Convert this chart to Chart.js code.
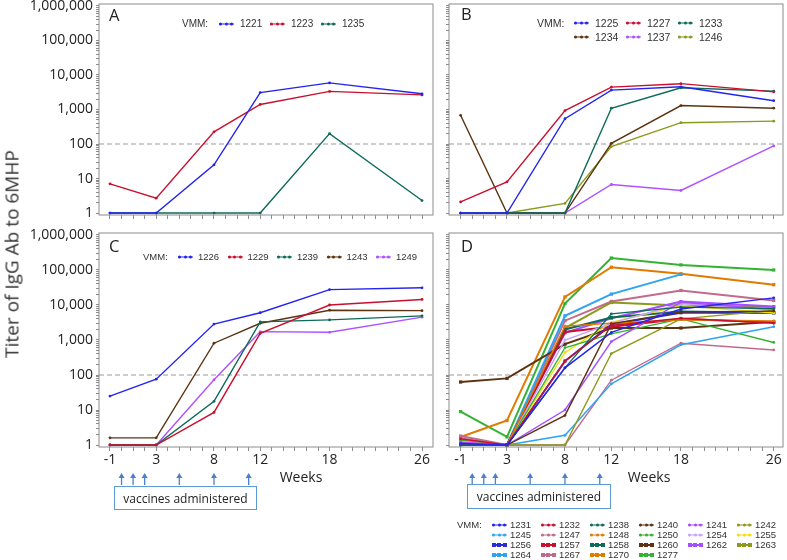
<!DOCTYPE html>
<html>
<head>
<meta charset="utf-8">
<script src="https://cdn.jsdelivr.net/npm/chart.js@4.4.1/dist/chart.umd.min.js"></script>
<style>
  html, body { margin: 0; padding: 0; background: #fff; }
  body { width: 787px; height: 560px; position: relative; overflow: hidden; font-family: "Open Sans", sans-serif; color: #222; }
  canvas { position: absolute; }
  .txt { position: absolute; white-space: nowrap; line-height: 1; transform: translateY(-50%); }
  .leg { position: absolute; white-space: nowrap; line-height: 1; transform: translateY(-50%); font-family: "Liberation Sans", Arial, sans-serif; font-size: 10px; color: #333; }
  .mk { position: absolute; width: 15px; transform: translateY(-50%); }
  .mk b { position: absolute; left: 0; right: 0; }
  .mk i { position: absolute; }
  .letter { position: absolute; font-size: 16.5px; line-height: 1; }
  .box { position: absolute; border: 1.5px solid #5b9bd5; box-sizing: border-box; font-size: 12px; display: flex; align-items: center; justify-content: center; }
</style>
</head>
<body>
<canvas id="chartA" width="440" height="225" style="left:0;top:0"></canvas>
<canvas id="chartB" width="347" height="225" style="left:440px;top:0"></canvas>
<canvas id="chartC" width="440" height="295" style="left:0;top:225px"></canvas>
<canvas id="chartD" width="347" height="295" style="left:440px;top:225px"></canvas>
<div id="overlay"></div>
<script>
// Data
const weeks = [-1, 3, 8, 12, 18, 26];
const weekLabels = [-1, 3, 8, 12, 18, 26];
const vaccineWeeks = [0, 1, 2, 5, 8, 11];
const titerLabels = [1, 10, 100, 1000, 10000, 100000, 1000000];
const cutoff = 100;

const vmmA = ["1221", "1223", "1235"];
const colorsA = ["#2424f0", "#c8102e", "#0b6b58"];
const titerA = [
    [1, 1, 25, 3100, 5900, 2850],
    [7, 2.7, 225, 1400, 3350, 2650],
    [1, 1, 1, 1, 200, 2.3]
];

const vmmB = ["1225", "1227", "1233", "1234", "1237", "1246"];
const colorsB = ["#2424f0", "#c8102e", "#0b6b58", "#5c3311", "#b050ff", "#8a9a1a"];
const titerB = [
    [1, 1, 540, 3650, 4550, 1800],
    [2.1, 8, 930, 4450, 5600, 3250],
    [1, 1, 1, 1090, 4250, 3400],
    [680, 1, 1, 105, 1300, 1090],
    [1, 1, 1, 6.7, 4.5, 88],
    [1, 1, 1.9, 84, 415, 460]
];

const vmmC = ["1226", "1229", "1239", "1243", "1249"];
const colorsC = ["#2424f0", "#c8102e", "#0b6b58", "#5c3311", "#b050ff"];
const titerC = [
    [25, 76, 2850, 6000, 27500, 31000],
    [1, 1, 8.5, 1550, 10000, 14400],
    [1, 1, 17.7, 3300, 3750, 4900],
    [1.6, 1.6, 810, 3000, 7100, 6900],
    [1, 1, 73, 1730, 1660, 4500]
];

const vmmD = ["1231", "1232", "1238", "1240", "1241", "1242",
              "1245", "1247", "1248", "1250", "1254", "1255",
              "1256", "1257", "1258", "1260", "1262", "1263",
              "1264", "1267", "1270", "1277"];
const colorsD = ["#2424f0", "#c8102e", "#0b6b58", "#5c3311", "#a64dff", "#8c9a1c",
                 "#2ea3f2", "#c36a8c", "#e07b00", "#33b233", "#c8a0ff", "#f2e000",
                 "#2b2bd8", "#c8102e", "#0b6b58", "#5c3311", "#a64dff", "#8c9a1c",
                 "#2ea3f2", "#c36a8c", "#e07b00", "#33b233"];
const titerD = [
    [1.1, 1, 160, 1650, 7700, 16000],
    [1.5, 1, 250, 2600, 4200, 3000],
    [1, 1, 160, 5600, 8700, 7900],
    [1, 1, 7, 2900, 6300, 6700],
    [1.2, 1, 10, 900, 12000, 7500],
    [1, 1, 1, 410, 4000, 7000],
    [1, 1, 1.9, 56, 730, 2400],
    [1.6, 1, 1, 71, 810, 520],
    [1.5, 1, 2500, 3000, 3800, 3500],
    [1.4, 1, 600, 1500, 4000, 850],
    [1.2, 1, 1000, 3000, 11000, 7000],
    [1.3, 1, 440, 3200, 9700, 5900],
    [1.2, 1, 250, 2800, 6000, 6000],
    [1.3, 1, 1700, 2400, 4000, 3200],
    [1.2, 1, 2000, 4400, 6500, 6000],
    [63, 80, 760, 2200, 2200, 3300],
    [1.3, 1, 1600, 4200, 12500, 9000],
    [1, 1, 2200, 11800, 9700, 8700],
    [1.1, 1, 4900, 20500, 75000, null],
    [1.8, 1, 3570, 12600, 26000, 13500],
    [1.7, 5, 17000, 120000, 78000, 38000],
    [9, 1.7, 11000, 220000, 140000, 100000]
];

// Plugins
const framePlugin = {
    id: "frame",
    beforeDatasetsDraw(chart) {
        const { ctx, chartArea: a, scales } = chart;
        const y = scales.y.getPixelForValue(cutoff);
        ctx.save();
        ctx.strokeStyle = "#9a9a9a";
        ctx.lineWidth = 1;
        ctx.setLineDash([5, 3]);
        ctx.beginPath();
        ctx.moveTo(a.left, y);
        ctx.lineTo(a.right, y);
        ctx.stroke();
        ctx.restore();
    },
    afterDraw(chart) {
        const { ctx, chartArea: a } = chart;
        ctx.save();
        ctx.strokeStyle = "#8c8c8c";
        ctx.lineWidth = 1;
        ctx.strokeRect(a.left, a.top, a.right - a.left, a.bottom - a.top);
        const opt = chart.options.plugins.vaccine;
        if (opt && opt.show) {
            ctx.strokeStyle = ctx.fillStyle = "#4a80d0";
            ctx.lineWidth = 1.3;
            vaccineWeeks.forEach(w => {
                const x = chart.scales.x.getPixelForValue(w);
                const top = a.bottom + 26, tail = a.bottom + 38;
                ctx.beginPath();
                ctx.moveTo(x, tail);
                ctx.lineTo(x, top + 4);
                ctx.stroke();
                ctx.beginPath();
                ctx.moveTo(x, top);
                ctx.lineTo(x - 3, top + 5);
                ctx.lineTo(x + 3, top + 5);
                ctx.closePath();
                ctx.fill();
            });
        }
        ctx.restore();
    }
};

function logTicks() {
    const t = [];
    for (let d = 0; d < 6; d++) {
        for (let m = 1; m < 10; m++) t.push({ value: m * Math.pow(10, d) });
    }
    t.push({ value: 1000000 });
    return t;
}

function makePanel(id, ids, values, colors, p) {
    const datasets = ids.map((vmm, i) => {
        const thick = p.thickFrom !== undefined && i >= p.thickFrom;
        return {
            label: vmm,
            data: weeks.map((w, j) => ({ x: w, y: values[i][j] })),
            borderColor: colors[i],
            backgroundColor: colors[i],
            borderWidth: thick ? 2 : 1.4,
            pointRadius: thick ? 2.3 : 1.4,
            pointStyle: thick ? "rect" : "circle",
            pointBorderWidth: 0,
            tension: 0
        };
    });
    return new Chart(document.getElementById(id), {
        type: "line",
        data: { datasets },
        options: {
            responsive: false,
            animation: false,
            layout: { padding: { top: p.padTop, right: p.padRight, left: 0, bottom: 0 } },
            plugins: {
                legend: { display: false },
                tooltip: { enabled: false },
                vaccine: { show: p.labelsX }
            },
            scales: {
                x: {
                    type: "linear",
                    min: p.xMin,
                    max: p.xMax,
                    afterBuildTicks: s => {
                        const t = [];
                        for (let w = -1; w <= 26; w++) t.push({ value: w });
                        s.ticks = t;
                    },
                    afterFit: s => { s.height = p.xh; s.paddingLeft = 0; s.paddingRight = 0; },
                    ticks: {
                        autoSkip: false,
                        maxRotation: 0,
                        padding: 1,
                        color: "#222",
                        font: { family: "Open Sans", size: 14 },
                        callback: v => (p.labelsX && weekLabels.includes(v)) ? String(v) : ""
                    },
                    grid: { drawOnChartArea: false, tickLength: 4, color: "#8c8c8c" },
                    border: { display: false }
                },
                y: {
                    type: "logarithmic",
                    min: 0.877,
                    max: 1140000,
                    afterBuildTicks: s => { s.ticks = logTicks(); },
                    afterFit: s => { s.width = p.yw; s.paddingTop = 0; s.paddingBottom = 0; },
                    ticks: {
                        autoSkip: false,
                        padding: 3,
                        color: "#222",
                        font: { family: "Open Sans", size: 14 },
                        callback: v => (p.labelsY && titerLabels.includes(v)) ? v.toLocaleString("en-US") : ""
                    },
                    grid: { drawOnChartArea: false, tickLength: 3, color: "#8c8c8c" },
                    border: { display: false }
                }
            }
        },
        plugins: [framePlugin]
    });
}

makePanel("chartA", vmmA, titerA, colorsA,
    { yw: 99, padTop: 1, padRight: 7, xh: 10, xMin: -1.95, xMax: 26.95, labelsX: false, labelsY: true });
makePanel("chartB", vmmB, titerB, colorsB,
    { yw: 9, padTop: 1, padRight: 4, xh: 10, xMin: -2.0, xMax: 26.8, labelsX: false, labelsY: false });
makePanel("chartC", vmmC, titerC, colorsC,
    { yw: 99, padTop: 8, padRight: 7, xh: 73, xMin: -1.95, xMax: 26.95, labelsX: true, labelsY: true });
makePanel("chartD", vmmD, titerD, colorsD,
    { yw: 9, padTop: 8, padRight: 4, xh: 73, xMin: -2.0, xMax: 26.8, labelsX: true, labelsY: false, thickFrom: 12 });

// Text and legends
const overlay = document.getElementById("overlay");

function addEl(cls, text, style) {
    const el = document.createElement("div");
    el.className = cls;
    if (text) el.textContent = text;
    Object.assign(el.style, style);
    overlay.appendChild(el);
    return el;
}

function marker(x, y, color, thick) {
    const m = addEl("mk", "", { left: x + "px", top: y + "px", height: (thick ? 4 : 3) + "px" });
    const line = document.createElement("b");
    Object.assign(line.style, { top: (thick ? 1 : 0.75) + "px", height: (thick ? 2 : 1.5) + "px", background: color });
    m.appendChild(line);
    [0, 5.5, 11].forEach(dx => {
        const d = document.createElement("i");
        Object.assign(d.style, {
            left: (thick ? dx - 0.5 : dx) + "px", top: "0px",
            width: (thick ? 4 : 3) + "px", height: (thick ? 4 : 3) + "px",
            borderRadius: thick ? "0" : "50%", background: color
        });
        m.appendChild(d);
    });
}

function legend(ids, colors, l) {
    addEl("leg", "VMM:", { left: l.vmmX + "px", top: l.y + "px", fontSize: l.size + "px" });
    ids.forEach((vmm, i) => {
        const col = i % l.perRow, row = Math.floor(i / l.perRow);
        const mx = l.mx + col * l.colStep, my = l.y + row * l.rowStep;
        marker(mx, my, colors[i], l.thickRow !== undefined && row >= l.thickRow);
        addEl("leg", vmm, { left: (mx + l.gap) + "px", top: my + "px", fontSize: l.size + "px" });
    });
}

legend(vmmA, colorsA, { vmmX: 182, y: 24, mx: 219, colStep: 51, rowStep: 0, perRow: 3, gap: 21, size: 10 });
legend(vmmB, colorsB, { vmmX: 537, y: 23, mx: 574, colStep: 52, rowStep: 14, perRow: 3, gap: 21, size: 10.5 });
legend(vmmC, colorsC, { vmmX: 143, y: 257, mx: 178, colStep: 49.5, rowStep: 0, perRow: 5, gap: 20, size: 9.5 });
legend(vmmD, colorsD, { vmmX: 457, y: 525, mx: 492, colStep: 49, rowStep: 10, perRow: 6, gap: 18, size: 9.5, thickRow: 2 });

addEl("letter", "A", { left: "109px", top: "7px" });
addEl("letter", "B", { left: "461px", top: "6px" });
addEl("letter", "C", { left: "109px", top: "238px" });
addEl("letter", "D", { left: "461px", top: "238px" });

addEl("txt", "Weeks", { left: "301px", top: "477px", fontSize: "14px", transform: "translate(-50%,-50%)" });
addEl("txt", "Weeks", { left: "649px", top: "477px", fontSize: "14px", transform: "translate(-50%,-50%)" });
addEl("box", "vaccines administered", { left: "114px", top: "486px", width: "143px", height: "24px" });
addEl("box", "vaccines administered", { left: "467px", top: "484px", width: "144px", height: "25px" });
addEl("txt", "Titer of IgG Ab to 6MHP", { left: "12px", top: "254px", fontSize: "19px", color: "#333", transform: "translate(-50%,-50%) rotate(-90deg)" });
</script>
</body>
</html>
